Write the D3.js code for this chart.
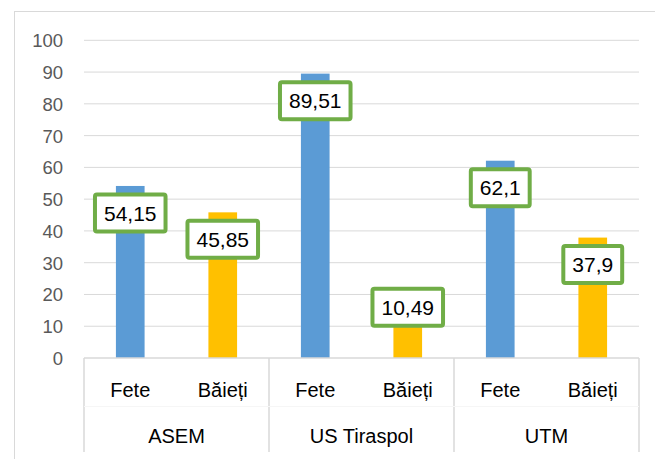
<!DOCTYPE html>
<html lang="ro">
<head>
    <meta charset="UTF-8">
    <title>Fete / Băieți</title>
    <script src="https://d3js.org/d3.v7.min.js"></script>
    <style>
        body { margin: 0; background: #fff; }
        svg { display: block; font-family: "Liberation Sans", Arial, sans-serif; }
    </style>
</head>
<body>
    <svg id="chart"></svg>
    <script>
        const width = 655;
        const height = 459;

        // data
        const groups = ["ASEM", "US Tiraspol", "UTM"];
        const genders = ["Fete", "Băieți"];
        const fete = [54.15, 89.51, 62.1];
        const baieti = [45.85, 10.49, 37.9];
        const yTicks = [0, 10, 20, 30, 40, 50, 60, 70, 80, 90, 100];

        const colors = { "Fete": "#5B9BD5", "Băieți": "#FFC000" };

        const rows = [];
        groups.forEach((g, i) => {
            rows.push({ group: g, gender: "Fete", value: fete[i] });
            rows.push({ group: g, gender: "Băieți", value: baieti[i] });
        });

        const svg = d3.select("#chart")
            .attr("width", width)
            .attr("height", height);

        const plotLeft = 84, plotRight = 639, plotTop = 40.3, plotBottom = 358;

        // outer chart border
        svg.append("rect")
            .attr("x", 14.5).attr("y", 11.5)
            .attr("width", 700).attr("height", 500)
            .attr("fill", "none")
            .attr("stroke", "#D9D9D9")
            .attr("stroke-width", 1);

        const y = d3.scaleLinear().domain([0, 100]).range([plotBottom, plotTop]);
        const x0 = d3.scaleBand().domain(groups).range([plotLeft, plotRight]);
        const x1 = d3.scaleBand().domain(genders).range([0, x0.bandwidth()]).paddingInner(0.69).paddingOuter(0.345);

        // gridlines
        svg.append("g")
            .selectAll("line")
            .data(yTicks.filter(d => d > 0))
            .join("line")
            .attr("x1", plotLeft).attr("x2", plotRight)
            .attr("y1", d => y(d)).attr("y2", d => y(d))
            .attr("stroke", "#D9D9D9")
            .attr("stroke-width", 1);

        // y axis labels
        const yAxis = d3.axisLeft(y).tickValues(yTicks).tickSize(0).tickPadding(21);
        const ya = svg.append("g").attr("transform", `translate(${plotLeft},0)`).call(yAxis);
        ya.select(".domain").remove();
        ya.selectAll("text")
            .attr("fill", "#595959")
            .style("font-size", "18.5px")
            .style("font-family", "'Liberation Sans', Arial, sans-serif")
            .attr("dy", "0.35em");

        // bars
        svg.append("g")
            .selectAll("rect")
            .data(rows)
            .join("rect")
            .attr("x", d => x0(d.group) + x1(d.gender))
            .attr("y", d => y(d.value))
            .attr("width", x1.bandwidth())
            .attr("height", d => y(0) - y(d.value))
            .attr("fill", d => colors[d.gender]);

        // category axis (two levels)
        svg.append("line")
            .attr("x1", plotLeft).attr("x2", plotRight)
            .attr("y1", plotBottom).attr("y2", plotBottom)
            .attr("stroke", "#D9D9D9").attr("stroke-width", 1.5);

        const seps = groups.map(g => x0(g)).concat([plotRight]);
        svg.append("g")
            .selectAll("line")
            .data(seps)
            .join("line")
            .attr("x1", d => d).attr("x2", d => d)
            .attr("y1", plotBottom).attr("y2", 452)
            .attr("stroke", "#D9D9D9").attr("stroke-width", 1.5);

        svg.append("line")
            .attr("x1", plotLeft).attr("x2", plotRight)
            .attr("y1", 406.5).attr("y2", 406.5)
            .attr("stroke", "#F6F6F6").attr("stroke-width", 1);

        svg.append("g")
            .selectAll("text")
            .data(rows)
            .join("text")
            .attr("x", d => x0(d.group) + x1(d.gender) + x1.bandwidth() / 2)
            .attr("y", 396.5)
            .attr("text-anchor", "middle")
            .style("font-size", "20px")
            .attr("fill", "#000")
            .text(d => d.gender);

        svg.append("g")
            .selectAll("text")
            .data(groups)
            .join("text")
            .attr("x", d => x0(d) + x0.bandwidth() / 2)
            .attr("y", 443.3)
            .attr("text-anchor", "middle")
            .style("font-size", "20px")
            .attr("fill", "#000")
            .text(d => d);

        // data labels in green boxes
        const fmt = v => String(v).replace(".", ",");
        const labels = svg.append("g")
            .selectAll("g")
            .data(rows)
            .join("g")
            .attr("transform", d => {
                const cx = x0(d.group) + x1(d.gender) + x1.bandwidth() / 2;
                const cy = d.value < 20 ? y(d.value) - 17.5 : y(d.value) + 27;
                return `translate(${cx},${cy})`;
            });

        labels.append("text")
            .attr("text-anchor", "middle")
            .attr("dy", "0.36em")
            .style("font-size", "21px")
            .attr("fill", "#000")
            .text(d => fmt(d.value));

        labels.insert("rect", "text")
            .each(function () {
                const t = this.parentNode.querySelector("text");
                const w = t.getComputedTextLength() + 18;
                d3.select(this)
                    .attr("x", -w / 2).attr("y", -18.5)
                    .attr("width", w).attr("height", 37);
            })
            .attr("rx", 2)
            .attr("fill", "#fff")
            .attr("stroke", "#70AD47")
            .attr("stroke-width", 4);
    </script>
</body>
</html>
